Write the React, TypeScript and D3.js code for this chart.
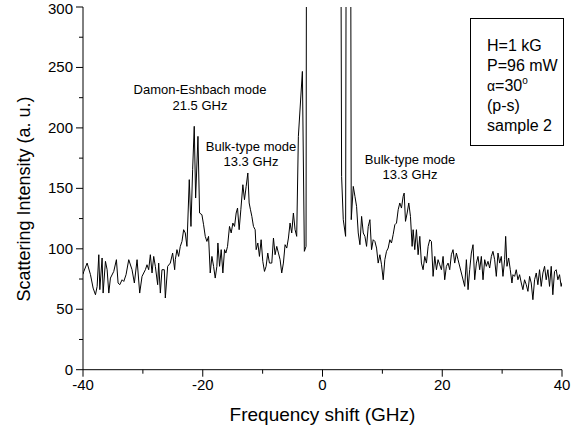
import React from 'react';
import * as d3 from 'd3';

const freq = [
  -40.0, -39.86, -39.31, -38.75, -38.31, -37.92, -37.64, -37.36, -37.19, -36.81, -36.64, -36.25, -35.97, -35.69, -35.42,
  -34.86, -34.42, -34.14, -33.86, -33.47, -33.19, -32.81, -32.36, -31.81, -31.42, -30.97, -30.53, -30.14, -29.58, -29.31,
  -29.03, -28.75, -28.47, -28.19, -27.92, -27.53, -27.36, -27.08, -26.81, -26.42, -26.25, -25.86, -25.42, -25.03, -24.69,
  -24.58, -24.31, -24.03, -23.75, -23.47, -23.19, -22.92, -22.64, -22.25, -21.97, -21.69, -21.42, -21.19, -20.8, -20.53,
  -20.14, -19.86, -19.58, -19.31, -19.03, -18.75, -18.47, -18.19, -17.92, -17.64, -17.47, -17.19, -16.92, -16.64, -16.36,
  -16.14, -15.86, -15.53, -15.25, -14.97, -14.69, -14.42, -14.19, -13.92, -13.64, -13.3, -13.03, -12.75, -12.47, -12.25,
  -12.03, -11.8, -11.53, -11.25, -11.08, -10.8, -10.53, -10.25, -9.97, -9.69, -9.42, -9.14, -8.86, -8.47, -8.19,
  -7.92, -7.64, -7.36, -7.08, -6.81, -6.53, -6.25, -5.97, -5.69, -5.42, -5.14, -4.86, -4.58, -4.31, -4.03,
  -3.36, -3.03, -2.75, -2.45, -1.5, 0, 1.5, 2.6, 3.19, 3.47, 3.86, 4.15, 4.5, 4.8, 5.14,
  5.42, 5.69, 5.97, 6.25, 6.53, 6.81, 7.08, 7.36, 7.64, 7.92, 8.19, 8.47, 8.75, 9.03, 9.3,
  9.58, 9.86, 10.14, 10.41, 10.69, 10.97, 11.25, 11.52, 11.8, 12.08, 12.36, 12.64, 12.91, 13.19, 13.47,
  13.64, 13.86, 14.14, 14.41, 14.69, 14.97, 15.14, 15.41, 15.69, 15.97, 16.25, 16.52, 16.8, 17.08, 17.36,
  17.64, 17.91, 18.19, 18.47, 18.75, 19.03, 19.3, 19.58, 19.86, 20.14, 20.41, 20.69, 20.97, 21.25, 21.52,
  21.8, 22.08, 22.36, 22.64, 23.75, 24.03, 24.31, 24.58, 24.86, 25.14, 25.42, 25.7, 25.97, 26.25, 26.53,
  26.81, 27.09, 27.36, 27.64, 27.92, 28.2, 28.47, 28.75, 29.03, 29.31, 29.59, 29.86, 30.14, 30.42, 30.59,
  30.81, 31.09, 31.36, 31.64, 31.81, 32.09, 32.36, 32.64, 32.92, 33.2, 33.47, 33.75, 34.03, 34.31, 34.59,
  34.86, 35.14, 35.42, 35.7, 35.97, 36.25, 36.53, 36.81, 37.09, 37.36, 37.64, 37.92, 38.2, 38.47, 38.75,
  39.03, 39.31, 39.59, 39.86, 40.0,
];

const intensity = [
  79, 81.3, 88.2, 78.6, 67.5, 62.0, 68.9, 95.1, 66.2, 92.4, 63.4, 89.6, 82.7, 63.4, 75.8,
  81.3, 91.0, 71.7, 70.3, 74.4, 73.0, 78.6, 91.0, 82.7, 71.7, 91.0, 63.4, 77.2, 82.7, 86.8,
  82.7, 95.1, 80.0, 93.7, 85.5, 70.3, 88.2, 63.4, 82.7, 82.7, 59.3, 85.5, 88.2, 96.5, 82.7,
  91.0, 99.3, 93.7, 102.0, 106.1, 115.8, 113.1, 102.0, 157.2, 118.5, 165.4, 201.3, 142.0, 193.0, 129.6,
  128.2, 119.9, 110.3, 106.1, 110.3, 80.0, 93.7, 85.5, 75.8, 85.5, 104.8, 85.5, 99.3, 80.0, 99.3,
  96.5, 102.0, 118.5, 113.1, 121.3, 118.5, 129.6, 133.7, 115.8, 132.3, 153.0, 140.6, 151.6, 162.7, 137.9,
  132.3, 126.8, 118.5, 115.8, 99.3, 104.8, 93.7, 107.5, 89.6, 81.3, 85.5, 96.5, 88.2, 88.2, 108.9,
  95.1, 102.0, 96.5, 91.0, 80.0, 88.2, 103.4, 100.6, 108.9, 121.3, 113.1, 129.6, 115.8, 110.3, 193.0,
  246.7, 97.9, 102.0, 1200, 2500, 3500, 2500, 1200, 159.9, 124.1, 110.3, 900, 900, 124.1, 151.6,
  143.4, 135.1, 113.1, 103.4, 126.8, 113.1, 110.3, 102.0, 118.5, 124.1, 99.3, 107.5, 106.1, 100.6, 88.2,
  95.1, 86.8, 74.4, 91.0, 97.9, 100.6, 107.5, 104.8, 111.7, 119.9, 121.3, 132.3, 137.9, 133.7, 143.4,
  146.1, 122.7, 129.6, 137.9, 126.8, 102.0, 115.8, 99.3, 115.8, 95.1, 110.3, 88.2, 82.7, 93.7, 88.2,
  102.0, 107.5, 106.1, 77.2, 93.7, 82.7, 91.0, 86.8, 82.7, 93.7, 74.4, 85.5, 88.2, 82.7, 95.1,
  99.3, 88.2, 96.5, 91.0, 68.9, 91.0, 66.2, 82.7, 96.5, 103.4, 74.4, 88.2, 93.7, 82.7, 93.7,
  74.4, 91.0, 85.5, 89.6, 84.1, 93.7, 97.9, 91.0, 77.2, 96.5, 88.2, 93.7, 77.2, 91.0, 110.3,
  85.5, 92.4, 82.7, 71.7, 78.6, 77.2, 82.7, 74.4, 78.6, 71.7, 66.2, 74.4, 70.3, 64.8, 77.2,
  71.7, 57.9, 74.4, 80.0, 70.3, 82.7, 68.9, 80.0, 85.5, 74.4, 82.7, 68.9, 85.5, 62.0, 81.3,
  82.7, 74.4, 78.6, 68.9, 72,
];

const xMajorTicks = [-40, -20, 0, 20, 40];
const xMinorTicks = [-30, -10, 10, 30];
const yMajorTicks = [0, 50, 100, 150, 200, 250, 300];
const yMinorTicks = [25, 75, 125, 175, 225, 275];

const xTitle = 'Frequency shift (GHz)';
const yTitle = 'Scattering Intensity (a. u.)';
const deLabel = ['Damon-Eshbach mode', '21.5 GHz'];
const bulkLabel = ['Bulk-type mode', '13.3 GHz'];
const infoLines = ['H=1 kG', 'P=96 mW', 'ALPHA', '(p-s)', 'sample 2'];

const W = 579;
const H = 434;
const FONT = "'Liberation Sans', Arial, sans-serif";

export default function App() {
  const x = d3.scaleLinear().domain([-40, 40]).range([83, 562]);
  const y = d3.scaleLinear().domain([0, 300]).range([369.7, 7]);
  const pts = freq.map((f, i) => [f, intensity[i]] as [number, number]);
  const line = d3.line<[number, number]>().x(d => x(d[0])).y(d => y(d[1]));
  const [x0, x1] = x.range();
  const [yb, yt] = y.range();

  return (
    <>
      <style>{'body{margin:0}'}</style>
      <svg width={W} height={H} style={{ display: 'block', background: '#fff' }} fontFamily={FONT}>
        <defs>
          <clipPath id="plotclip">
            <rect x={x0} y={yt} width={x1 - x0} height={yb - yt} />
          </clipPath>
        </defs>
        <path d={line(pts) || ''} fill="none" stroke="#000" strokeWidth={1} clipPath="url(#plotclip)" strokeLinejoin="miter" />

        {/* axes */}
        <line x1={x0} x2={x1} y1={yb} y2={yb} stroke="#000" strokeWidth={1} />
        <line x1={x0} x2={x0} y1={yb} y2={yt} stroke="#000" strokeWidth={1} />
        {xMajorTicks.map(t => (
          <g key={'xm' + t}>
            <line x1={x(t)} x2={x(t)} y1={yb} y2={yb + 7} stroke="#000" />
            <text x={x(t)} y={yb + 20} fontSize={15} textAnchor="middle">{t}</text>
          </g>
        ))}
        {xMinorTicks.map(t => (
          <line key={'xn' + t} x1={x(t)} x2={x(t)} y1={yb} y2={yb + 4} stroke="#000" />
        ))}
        {yMajorTicks.map(t => (
          <g key={'ym' + t}>
            <line x1={x0 - 7} x2={x0} y1={y(t)} y2={y(t)} stroke="#000" />
            <text x={x0 - 10} y={Math.max(y(t) + 5, 14)} fontSize={15} textAnchor="end">{t}</text>
          </g>
        ))}
        {yMinorTicks.map(t => (
          <line key={'yn' + t} x1={x0 - 4} x2={x0} y1={y(t)} y2={y(t)} stroke="#000" />
        ))}

        <text x={322.5} y={421} fontSize={19} textAnchor="middle">{xTitle}</text>
        <text transform="translate(30,199) rotate(-90)" fontSize={18} textAnchor="middle">{yTitle}</text>

        {/* annotations */}
        <text fontSize={13} textAnchor="middle">
          <tspan x={200} y={94}>{deLabel[0]}</tspan>
          <tspan x={200} y={110}>{deLabel[1]}</tspan>
        </text>
        <text fontSize={13} textAnchor="middle">
          <tspan x={251} y={151}>{bulkLabel[0]}</tspan>
          <tspan x={251} y={166}>{bulkLabel[1]}</tspan>
        </text>
        <text fontSize={13} textAnchor="middle">
          <tspan x={410} y={164}>{bulkLabel[0]}</tspan>
          <tspan x={410} y={179}>{bulkLabel[1]}</tspan>
        </text>

        {/* info box */}
        <rect x={470.5} y={18.5} width={93} height={127} fill="#fff" stroke="#000" strokeWidth={1} />
        {infoLines.map((s, i) => (
          <text key={s} x={487} y={51 + i * 20} fontSize={16}>
            {s === 'ALPHA' ? (
              <>
                <tspan fontSize={14}>α</tspan>
                <tspan>=30</tspan>
                <tspan fontSize={10} dy={-7}>o</tspan>
              </>
            ) : s}
          </text>
        ))}
      </svg>
    </>
  );
}
